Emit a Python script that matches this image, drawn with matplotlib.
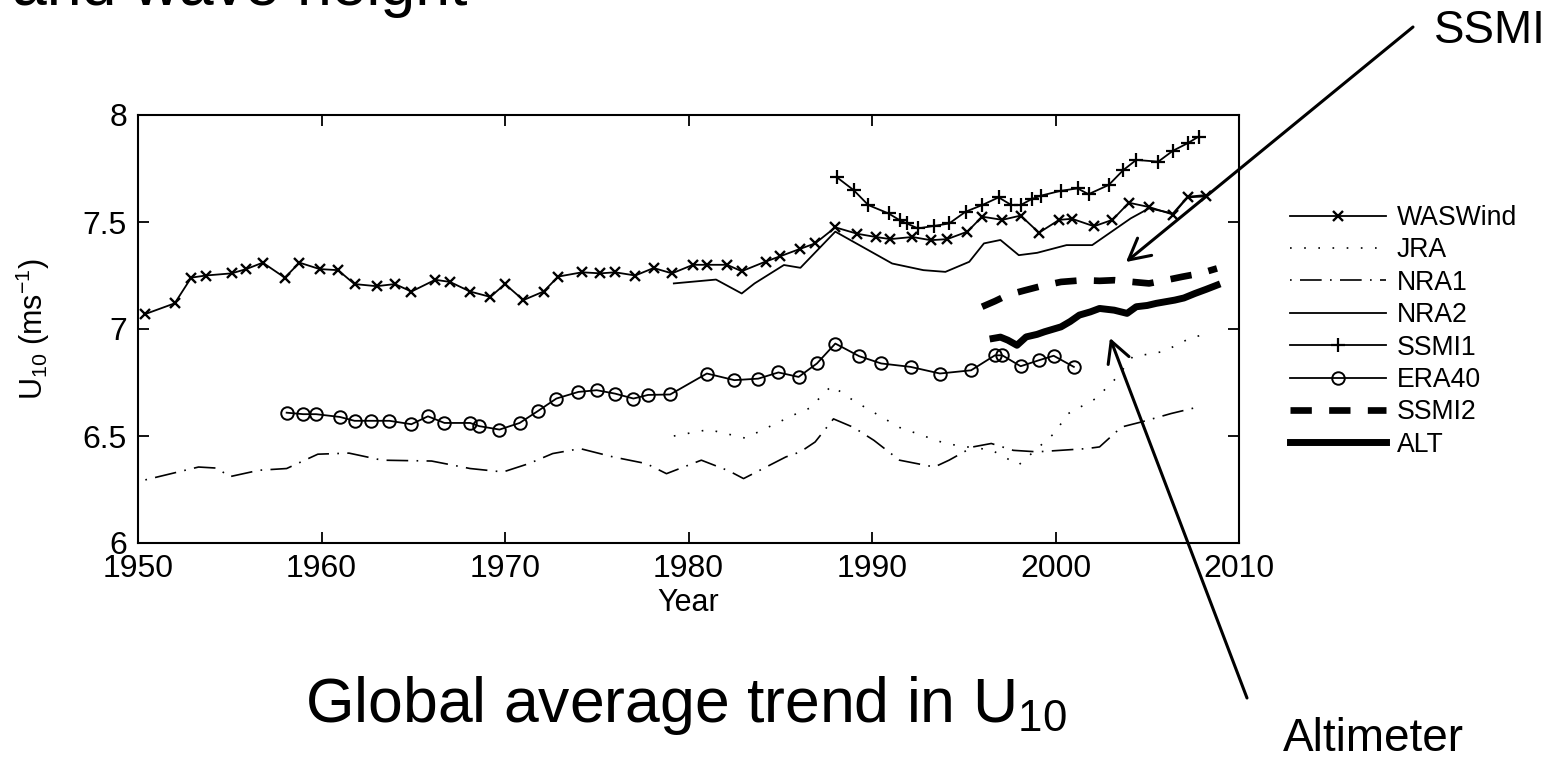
import numpy as np
import matplotlib.pyplot as plt

plt.rcParams['font.family'] = ['Liberation Sans', 'DejaVu Sans']
plt.rcParams['mathtext.default'] = 'regular'

# values
was_years = [1950.4, 1952.0, 1952.9, 1953.7, 1955.1, 1955.9, 1956.8, 1958.0, 1958.8, 1959.9,
             1960.9, 1961.8, 1963.0, 1964.0, 1964.9, 1966.2, 1967.0, 1968.1, 1969.2, 1970.0,
             1971.0, 1972.1, 1972.9, 1974.2, 1975.2, 1976.0, 1977.1, 1978.1, 1979.1, 1980.25,
             1981.0, 1982.1, 1982.9, 1984.2, 1985.0, 1986.1, 1986.9, 1988.0, 1989.2, 1990.2,
             1991.0, 1992.2, 1993.2, 1994.1, 1995.2, 1996.0, 1997.1, 1998.1, 1999.1, 2000.2,
             2000.9, 2002.1, 2003.1, 2004.0, 2005.1, 2006.4, 2007.2, 2008.2]
was_vals = [7.07, 7.12, 7.24, 7.25, 7.26, 7.28, 7.31, 7.24, 7.31, 7.28,
            7.275, 7.21, 7.20, 7.21, 7.175, 7.23, 7.22, 7.175, 7.15, 7.21,
            7.135, 7.175, 7.245, 7.265, 7.26, 7.265, 7.25, 7.285, 7.26, 7.30,
            7.30, 7.30, 7.27, 7.315, 7.34, 7.375, 7.40, 7.475, 7.445, 7.43,
            7.42, 7.43, 7.415, 7.42, 7.455, 7.525, 7.51, 7.53, 7.45, 7.51,
            7.515, 7.48, 7.51, 7.59, 7.57, 7.535, 7.615, 7.62]

jra_years = [1979.2, 1981.1, 1983.1, 1985.9, 1986.6, 1987.8, 1989.0, 1991.5, 1994.0, 1995.1,
             1996.5, 1998.0, 1999.9, 2000.7, 2002.2, 2003.3, 2004.2, 2005.9, 2007.4, 2008.2]
jra_vals = [6.50, 6.53, 6.49, 6.605, 6.63, 6.735, 6.665, 6.54, 6.465, 6.45,
            6.435, 6.365, 6.51, 6.605, 6.675, 6.77, 6.87, 6.895, 6.96, 6.975]

nra1_years = [1950.4, 1953.3, 1954.3, 1955.0, 1956.6, 1958.1, 1959.8, 1961.5, 1963.3, 1966.0,
              1968.1, 1969.9, 1971.3, 1972.6, 1974.1, 1975.9, 1977.7, 1978.8, 1980.7, 1982.2,
              1983.0, 1985.3, 1986.1, 1986.9, 1987.9, 1989.0, 1990.1, 1991.5, 1993.4, 1994.2,
              1995.5, 1996.5, 1997.7, 1999.0, 2001.7, 2002.4, 2003.6, 2004.7, 2006.3, 2007.8]
nra1_vals = [6.295, 6.355, 6.35, 6.31, 6.34, 6.348, 6.415, 6.42, 6.387, 6.383,
             6.348, 6.332, 6.371, 6.418, 6.441, 6.402, 6.371, 6.324, 6.387, 6.337,
             6.301, 6.402, 6.426, 6.472, 6.58, 6.54, 6.48, 6.387, 6.355, 6.387,
             6.449, 6.465, 6.433, 6.426, 6.441, 6.449, 6.542, 6.566, 6.605, 6.636]

nra2_years = [1979.2, 1981.5, 1982.9, 1983.6, 1985.2, 1986.1, 1988.0, 1991.1, 1992.8, 1994.0,
              1995.3, 1996.1, 1997.0, 1998.0, 1999.0, 2000.6, 2002.0, 2004.1, 2005.1, 2006.4,
              2007.2, 2008.2]
nra2_vals = [7.213, 7.231, 7.166, 7.213, 7.299, 7.286, 7.455, 7.306, 7.275, 7.267,
             7.314, 7.40, 7.416, 7.345, 7.356, 7.392, 7.392, 7.517, 7.564, 7.54,
             7.618, 7.626]

ssmi1_years = [1988.1, 1989.0, 1989.8, 1990.9, 1991.5, 1991.9, 1992.5, 1993.4, 1994.2, 1995.1,
               1996.0, 1996.9, 1997.6, 1998.1, 1998.7, 1999.2, 2000.3, 2001.2, 2001.8, 2002.9,
               2003.7, 2004.4, 2005.6, 2006.4, 2007.2, 2007.8]
ssmi1_vals = [7.708, 7.649, 7.579, 7.54, 7.509, 7.493, 7.47, 7.482, 7.493, 7.548,
              7.579, 7.615, 7.579, 7.579, 7.607, 7.623, 7.646, 7.657, 7.63, 7.673,
              7.743, 7.79, 7.782, 7.833, 7.868, 7.899]

era_years = [1958.1, 1959.0, 1959.7, 1961.0, 1961.8, 1962.7, 1963.7, 1964.9, 1965.8, 1966.7,
             1968.1, 1968.6, 1969.7, 1970.8, 1971.8, 1972.8, 1974.0, 1975.0, 1976.0, 1977.0,
             1977.8, 1979.0, 1981.0, 1982.5, 1983.8, 1984.9, 1986.0, 1987.0, 1988.0, 1989.3,
             1990.5, 1992.1, 1993.7, 1995.4, 1996.7, 1997.1, 1998.1, 1999.1, 1999.9, 2001.0]
era_vals = [6.609, 6.602, 6.602, 6.589, 6.571, 6.571, 6.571, 6.555, 6.592, 6.561,
            6.561, 6.546, 6.53, 6.561, 6.617, 6.675, 6.706, 6.714, 6.698, 6.675,
            6.692, 6.694, 6.792, 6.761, 6.768, 6.797, 6.776, 6.839, 6.932, 6.873,
            6.839, 6.823, 6.792, 6.807, 6.877, 6.877, 6.826, 6.854, 6.875, 6.823]

ssmi2_years = [1996.0, 1996.7, 1997.4, 1998.3, 1999.2, 2000.3, 2001.5, 2002.4, 2003.2, 2004.2,
               2005.1, 2006.0, 2006.9, 2007.9, 2008.8]
ssmi2_vals = [7.104, 7.13, 7.159, 7.18, 7.20, 7.22, 7.228, 7.225, 7.228, 7.22,
              7.213, 7.228, 7.244, 7.26, 7.283]

alt_years = [1996.6, 1997.0, 1997.4, 1997.9, 1998.4, 1999.0, 1999.4, 2000.3, 2000.8, 2001.3,
             2001.9, 2002.4, 2003.2, 2003.9, 2004.4, 2005.0, 2005.5, 2006.5, 2007.0, 2007.6,
             2008.2, 2008.8]
alt_vals = [6.956, 6.962, 6.948, 6.924, 6.963, 6.975, 6.987, 7.01, 7.035, 7.065,
            7.08, 7.096, 7.088, 7.073, 7.104, 7.11, 7.12, 7.135, 7.145, 7.166,
            7.185, 7.205]

fig = plt.figure(figsize=(15.61, 7.59), dpi=100)
ax = fig.add_axes([138 / 1561, 1 - 543 / 759, (1239 - 138) / 1561, (543 - 115) / 759])

ax.plot(was_years, was_vals, color='k', lw=1.3, marker='x', ms=7.5, mew=1.7, label='WASWind')
ax.plot(jra_years, jra_vals, color='k', lw=1.2, linestyle=(0, (1, 7.5)), label='JRA')
ax.plot(nra1_years, nra1_vals, color='k', lw=1.2, linestyle=(0, (1, 5, 13, 5)), label='NRA1')
ax.plot(nra2_years, nra2_vals, color='k', lw=1.3, label='NRA2')
ax.plot(ssmi1_years, ssmi1_vals, color='k', lw=1.3, marker='+', ms=10, mew=1.6, label='SSMI1')
ax.plot(era_years, era_vals, color='k', lw=1.3, marker='o', ms=9, mew=1.4, mfc='none', label='ERA40')
ax.plot(ssmi2_years, ssmi2_vals, color='k', lw=4.8, linestyle=(0, (3.2, 2.6)), label='SSMI2')
ax.plot(alt_years, alt_vals, color='k', lw=5.0, label='ALT')

ax.set_xlim(1950, 2010)
ax.set_ylim(6, 8)
ax.set_xticks([1950, 1960, 1970, 1980, 1990, 2000, 2010])
ax.set_yticks([6, 6.5, 7, 7.5, 8])
ax.set_yticklabels(['6', '6.5', '7', '7.5', '8'])
ax.tick_params(direction='in', length=8, width=1.3, labelsize=23, top=True, right=True, pad=8)
for s in ax.spines.values():
    s.set_linewidth(1.5)
ax.set_xlabel('Year', fontsize=22, labelpad=3)
ax.set_ylabel('U$_{10}$ (ms$^{-1}$)', fontsize=22)
ax.yaxis.set_label_coords(-0.078, 0.5)

ax.legend(loc='upper left', bbox_to_anchor=(1290 / 1561, 1 - 205 / 759),
          bbox_transform=fig.transFigure, frameon=False, fontsize=19.2,
          handlelength=3.6, handletextpad=0.4, labelspacing=0.24,
          borderpad=0, borderaxespad=0)

# annotations
ax.annotate('', xy=(2003.84, 7.313), xycoords='data',
            xytext=(1413 / 1561, 1 - 27 / 759), textcoords='figure fraction',
            arrowprops=dict(arrowstyle='->,head_length=0.75,head_width=0.4',
                            lw=2.2, color='k', mutation_scale=20, shrinkA=0, shrinkB=0),
            annotation_clip=False)
ax.annotate('', xy=(2002.97, 6.958), xycoords='data',
            xytext=(1247 / 1561, 1 - 698 / 759), textcoords='figure fraction',
            arrowprops=dict(arrowstyle='->,head_length=0.75,head_width=0.4',
                            lw=2.2, color='k', mutation_scale=20, shrinkA=0, shrinkB=0),
            annotation_clip=False)

fig.text(1434 / 1561, 1 - 43 / 759, 'SSMI', fontsize=33, ha='left', va='baseline')
fig.text(1283 / 1561, 1 - 751 / 759, 'Altimeter', fontsize=33, ha='left', va='baseline')
fig.text(305 / 1561, 1 - 722 / 759, 'Global average trend in U$_{10}$', fontsize=45,
         ha='left', va='baseline')
fig.text(12 / 1561, 1 - 5 / 759, 'and wave height', fontsize=45, ha='left', va='baseline')

fig.savefig('out.png', dpi=100)
